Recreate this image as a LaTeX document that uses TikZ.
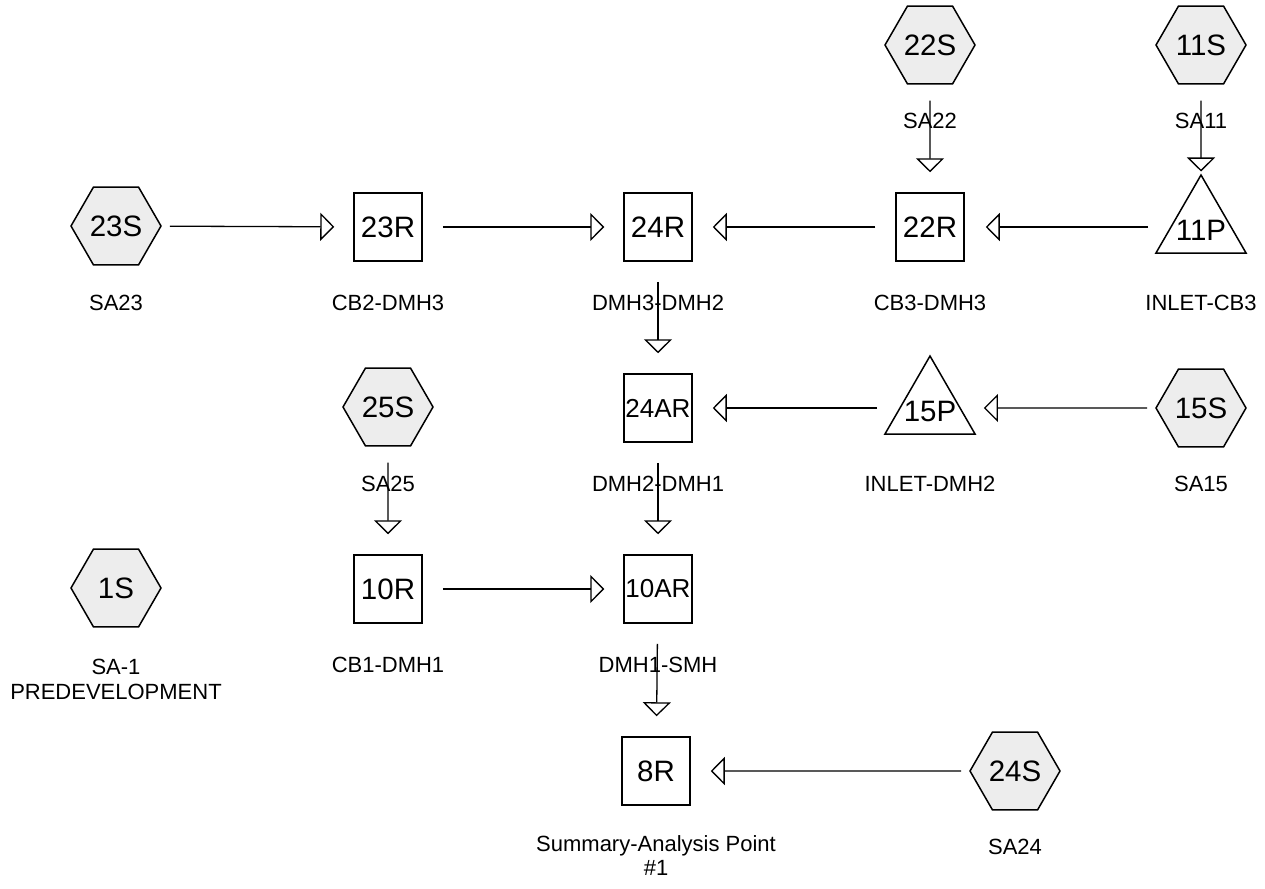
\documentclass[tikz,border=0pt]{standalone}
\usepackage{fontspec}
\setmainfont{Liberation Sans}
\usetikzlibrary{arrows.meta,shapes.geometric}
\newcommand\zerobox[1]{\smash{\makebox[0pt]{\raisebox{-13.5pt}{#1}}}}
\begin{document}
\begin{tikzpicture}[x=1pt,y=-1pt,
  nodefont/.style={font=\fontsize{29.5}{32}\selectfont},
  hexn/.style={regular polygon, regular polygon sides=6, minimum size=90pt, inner sep=0pt, draw, line width=1.5pt, fill=black!7, nodefont},
  boxn/.style={rectangle, minimum width=68pt, minimum height=68pt, inner sep=0pt, draw, line width=1.5pt, fill=white, nodefont},
  trin/.style={regular polygon, regular polygon sides=3, minimum size=104pt, inner sep=0pt, draw, line width=1.5pt, fill=white, nodefont},
  smallt/.style={font=\fontsize{26}{28}\selectfont},
  lbl/.style={anchor=north, inner sep=0pt, align=center, font=\fontsize{22}{24.5}\selectfont},
  flow/.style={line width=1.3pt, -{Triangle[open, length=14pt, width=28pt, line width=1.3pt]}},
]
\useasboundingbox (0,0) rectangle (1265,888);

% labels (drawn first, connectors pass over them)
\node[lbl] (l22s) at (930,113) {SA22};
\node[lbl] (l11s) at (1201,113) {SA11};
\node[lbl] (l23s) at (116,295) {SA23};
\node[lbl] (l23r) at (388,295) {CB2-DMH3};
\node[lbl] (l24r) at (658,295) {DMH3-DMH2};
\node[lbl] (l22r) at (930,295) {CB3-DMH3};
\node[lbl] (l11p) at (1201,295) {INLET-CB3};
\node[lbl] (l25s) at (388,476) {SA25};
\node[lbl] (l24ar) at (658,476) {DMH2-DMH1};
\node[lbl] (l15p) at (930,476) {INLET-DMH2};
\node[lbl] (l15s) at (1201,476) {SA15};
\node[lbl] (l1s) at (116,659) {SA-1\\PREDEVELOPMENT};
\node[lbl] (l10r) at (388,657) {CB1-DMH1};
\node[lbl] (l10ar) at (658,657) {DMH1-SMH};
\node[lbl] (l8r) at (656,835) {Summary-Analysis Point\\\#1};
\node[lbl] (l24s) at (1015,839) {SA24};

% nodes
\node[hexn] (s22) at (930,45) {22S};
\node[hexn] (s11) at (1201,45) {11S};
\node[hexn] (s23) at (116,226) {23S};
\node[boxn] (r23) at (388,227) {23R};
\node[boxn] (r24) at (658,227) {24R};
\node[boxn] (r22) at (930,227) {22R};
\node[trin] (p11) at (1201,227) {\zerobox{11P}};
\node[hexn] (s25) at (388,407) {25S};
\node[boxn, smallt] (r24a) at (658,408) {24AR};
\node[trin] (p15) at (930,408) {\zerobox{15P}};
\node[hexn] (s15) at (1201,408) {15S};
\node[hexn] (s1) at (116,588) {1S};
\node[boxn] (r10) at (388,589) {10R};
\node[boxn, smallt] (r10a) at (658,589) {10AR};
\node[boxn] (r8) at (656,771) {8R};
\node[hexn] (s24) at (1015,771) {24S};

% connectors
\draw[flow, shorten <=8pt, shorten >=19pt] (s23) -- (r23);
\draw[flow, shorten <=20pt, shorten >=19pt] (r23) -- (r24);
\draw[flow, shorten <=20pt, shorten >=20pt] (r22) -- (r24);
\draw[flow, shorten <=22pt, shorten >=21pt] (p11) -- (r22);
\draw[flow, shorten <=16pt, shorten >=20pt] (s22) -- (r22);
\draw[flow, shorten <=16pt, shorten >=2pt] (s11) -- (p11);
\draw[flow, shorten <=20pt, shorten >=20pt] (r24) -- (r24a);
\draw[flow, shorten <=22pt, shorten >=20pt] (p15) -- (r24a);
\draw[flow, shorten <=8pt, shorten >=23pt] (s15) -- (p15);
\draw[flow, shorten <=16pt, shorten >=20pt] (s25) -- (r10);
\draw[flow, shorten <=20pt, shorten >=20pt] (r24a) -- (r10a);
\draw[flow, shorten <=20pt, shorten >=19pt] (r10) -- (r10a);
\draw[flow, shorten <=20pt, shorten >=20pt] (r10a) -- (r8);
\draw[flow, shorten <=8pt, shorten >=20pt] (s24) -- (r8);
\end{tikzpicture}
\end{document}
